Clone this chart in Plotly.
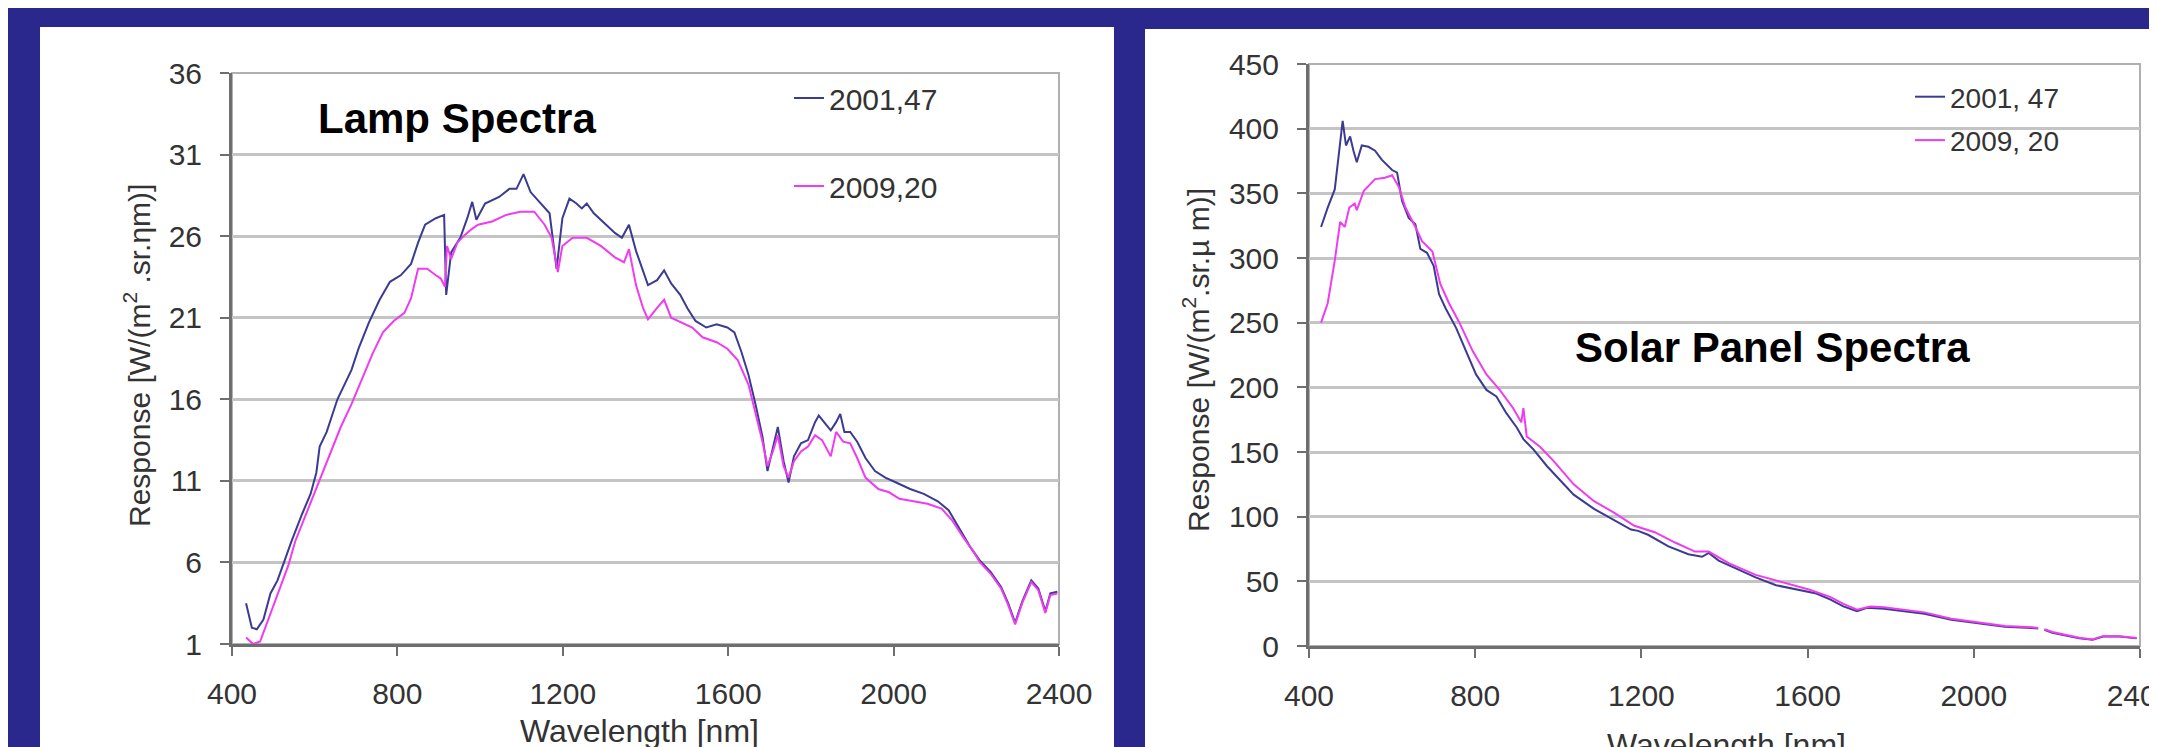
import plotly.graph_objects as go

# ---------------- data ----------------
lamp_wl_2001 = [434, 448, 460, 476, 493, 510, 527, 544, 570, 590, 604, 612, 629, 655, 689, 706, 731, 757, 782, 808,
                833, 850, 867, 893, 913, 918, 930, 952, 969, 981, 991, 1012, 1046, 1071, 1088, 1105, 1122, 1148, 1168,
                1185, 1199, 1216, 1233, 1246, 1258, 1275, 1300, 1326, 1343, 1360, 1377, 1394, 1406, 1428, 1445, 1462,
                1484, 1501, 1521, 1547, 1572, 1598, 1615, 1632, 1649, 1666, 1683, 1695, 1708, 1720, 1734, 1746, 1759,
                1776, 1793, 1810, 1819, 1831, 1848, 1861, 1871, 1881, 1895, 1912, 1932, 1955, 1980, 2006, 2040, 2073,
                2107, 2133, 2158, 2184, 2209, 2235, 2260, 2277, 2294, 2311, 2333, 2350, 2367, 2379, 2396]
lamp_2001 = [3.5, 2.0, 1.9, 2.5, 4.1, 4.9, 6.1, 7.3, 9.0, 10.2, 11.5, 13.1, 14.0, 16.0, 17.8, 19.1, 20.7, 22.1, 23.2,
             23.6, 24.3, 25.6, 26.7, 27.1, 27.3, 22.4, 25.0, 25.9, 27.1, 28.1, 27.0, 28.0, 28.4, 28.9, 28.9, 29.8,
             28.7, 28.0, 27.4, 24.0, 27.1, 28.3, 28.0, 27.7, 28.0, 27.4, 26.8, 26.2, 25.9, 26.7, 25.1, 23.9, 23.0,
             23.3, 23.9, 23.1, 22.4, 21.6, 20.8, 20.4, 20.6, 20.4, 20.1, 18.9, 17.5, 15.7, 13.7, 11.6, 13.1, 14.3,
             12.2, 10.9, 12.5, 13.3, 13.5, 14.6, 15.0, 14.6, 14.1, 14.6, 15.1, 14.0, 14.0, 13.4, 12.4, 11.6, 11.2,
             10.9, 10.5, 10.2, 9.75, 9.2, 8.1, 7.0, 6.1, 5.4, 4.5, 3.5, 2.3, 3.6, 4.9, 4.4, 3.0, 4.1, 4.2]

lamp_wl_2009 = [434, 451, 468, 485, 502, 519, 536, 553, 570, 595, 612, 638, 663, 689, 714, 740, 765, 791, 817, 833,
                850, 872, 893, 905, 915, 920, 930, 945, 960, 978, 995, 1029, 1063, 1097, 1131, 1156, 1173, 1188, 1199,
                1224, 1258, 1292, 1326, 1348, 1360, 1377, 1394, 1406, 1428, 1445, 1462, 1487, 1513, 1538, 1572, 1598,
                1623, 1649, 1666, 1683, 1695, 1708, 1720, 1734, 1746, 1759, 1776, 1793, 1810, 1827, 1848, 1861, 1878,
                1895, 1912, 1932, 1963, 1989, 2014, 2048, 2082, 2116, 2141, 2167, 2192, 2209, 2235, 2260, 2277, 2294,
                2311, 2333, 2350, 2367, 2379, 2396]
lamp_2009 = [1.4, 1.0, 1.15, 2.3, 3.5, 4.6, 5.8, 7.3, 8.4, 9.9, 11.1, 12.7, 14.3, 15.7, 17.2, 18.8, 20.1, 20.8, 21.3,
             22.2, 24.0, 24.0, 23.6, 23.4, 22.9, 25.4, 24.6, 25.6, 26.0, 26.4, 26.7, 26.9, 27.3, 27.5, 27.5, 26.7,
             25.9, 23.8, 25.4, 25.9, 25.9, 25.4, 24.7, 24.4, 25.2, 23.0, 21.6, 20.9, 21.6, 22.1, 21.0, 20.7, 20.4,
             19.8, 19.5, 19.1, 18.4, 16.9, 15.1, 13.4, 11.9, 12.8, 13.8, 11.9, 11.2, 12.2, 12.8, 13.1, 13.8, 13.5,
             12.5, 14.0, 13.4, 13.3, 12.4, 11.2, 10.5, 10.3, 9.9, 9.75, 9.6, 9.3, 8.6, 7.6, 6.7, 6.0, 5.3, 4.4, 3.4,
             2.2, 3.5, 4.8, 4.3, 2.9, 4.0, 4.1]

solar_wl_2001 = [429, 445, 462, 475, 481, 489, 499, 507, 515, 527, 543, 559, 575, 600, 612, 624, 640, 656, 668, 684,
                 700, 713, 729, 754, 778, 802, 827, 851, 875, 900, 916, 940, 973, 1005, 1037, 1086, 1135, 1175, 1192,
                 1216, 1265, 1313, 1346, 1362, 1386, 1427, 1475, 1524, 1573, 1621, 1654, 1686, 1719, 1743, 1784,
                 1832, 1881, 1946, 2011, 2075, 2140, 2155, 2160, 2170, 2189, 2254, 2286, 2311, 2351, 2392]
solar_2001 = [324, 339, 353, 390, 406, 387, 394, 383, 374, 387, 386, 383, 376, 368, 366, 344, 331, 326, 307, 304,
              294, 272, 261, 246, 228, 210, 198, 193, 180, 169, 160, 152, 139, 128, 117, 106, 97, 90, 89,
              86, 77, 71, 69, 72, 66, 60, 53, 47, 43.5, 40.6, 36, 30.6, 27, 29.5, 28.8,
              27, 25, 20.3, 17.7, 14.8, 14, 13.5, None, 12.5, 10.3, 5.9, 4.8, 7.4, 7.4, 5.9]

solar_wl_2009 = [429, 445, 462, 475, 486, 497, 510, 515, 532, 559, 583, 600, 616, 632, 656, 672, 697, 716, 737, 762,
                 794, 827, 859, 891, 911, 916, 924, 956, 989, 1037, 1086, 1135, 1183, 1232, 1281, 1329, 1362, 1410,
                 1475, 1540, 1605, 1654, 1686, 1719, 1751, 1784, 1832, 1881, 1946, 2011, 2075, 2140, 2155, 2160,
                 2170, 2189, 2254, 2286, 2311, 2351, 2392]
solar_2009 = [250, 265, 298, 328, 324, 339, 342, 337, 352, 361, 362, 364, 355, 339, 324, 313, 305, 280, 265, 250,
              228, 210, 198, 184, 173, 184, 162, 154, 143, 125, 112, 103, 93, 88, 80, 73, 73, 64,
              55, 49, 43.5, 38, 32.5, 28, 30.6, 30, 28, 26, 21, 18.5, 15.5, 14.5, 14, None,
              13, 10.8, 6.3, 5, 7.6, 7.6, 6.2]

lamp_names = ["2001,47", "2009,20"]
solar_names = ["2001, 47", "2009, 20"]
x_ticks = [400, 800, 1200, 1600, 2000, 2400]
lamp_y_ticks = [1, 6, 11, 16, 21, 26, 31, 36]
solar_y_ticks = [0, 50, 100, 150, 200, 250, 300, 350, 400, 450]

# ---------------- style ----------------
W, H = 2157, 747
NAVY = "#2a288c"
BLUE = "#3b3b92"
PINK = "#f03cf0"
FONT = "Liberation Sans, Arial, sans-serif"
NARROW = "Liberation Sans Narrow, Arial Narrow, Liberation Sans, Arial, sans-serif"
TXT = "#333333"


def px(x):
    return x / W


def py(y):
    return 1 - y / H


fig = go.Figure()
fig.add_trace(go.Scatter(x=lamp_wl_2001, y=lamp_2001, name=lamp_names[0], mode="lines",
                         line=dict(color=BLUE, width=2), xaxis="x", yaxis="y",
                         legend="legend", legendgroup="a"))
fig.add_trace(go.Scatter(x=lamp_wl_2009, y=lamp_2009, name=lamp_names[1], mode="lines",
                         line=dict(color=PINK, width=2), xaxis="x", yaxis="y",
                         legend="legend", legendgroup="b"))
fig.add_trace(go.Scatter(x=solar_wl_2001, y=solar_2001, name=solar_names[0], mode="lines",
                         line=dict(color=BLUE, width=2), xaxis="x2", yaxis="y2",
                         legend="legend2", legendgroup="c", connectgaps=False))
fig.add_trace(go.Scatter(x=solar_wl_2009, y=solar_2009, name=solar_names[1], mode="lines",
                         line=dict(color=PINK, width=2), xaxis="x2", yaxis="y2",
                         legend="legend2", legendgroup="d", connectgaps=False))

axis_common = dict(showgrid=True, zeroline=False, showline=True, linecolor="#6e6e6e", linewidth=3,
                   ticks="outside", ticklen=9, tickwidth=2, tickcolor="#6e6e6e", automargin=False,
                   ticklabeloverflow="allow",
                   tickfont=dict(family=FONT, size=30, color=TXT))

xcommon = dict(axis_common, range=[400, 2400], tickvals=x_ticks, showgrid=False, ticklabelstandoff=12)

fig.update_layout(
    width=W, height=H,
    margin=dict(l=0, r=0, t=0, b=0, pad=0, autoexpand=False),
    paper_bgcolor=NAVY, plot_bgcolor="white",
    showlegend=True,
    xaxis=dict(xcommon, domain=[px(224), px(1051)], anchor="y"),
    yaxis=dict(axis_common, range=[1, 36], tickvals=lamp_y_ticks, domain=[py(636), py(65)], anchor="x",
               gridcolor="#c4c4c4", gridwidth=3, ticklabelstandoff=12),
    xaxis2=dict(xcommon, domain=[px(1301), px(2132)], anchor="y2"),
    yaxis2=dict(axis_common, range=[0, 450], tickvals=solar_y_ticks, domain=[py(638), py(56)], anchor="x2",
                gridcolor="#c4c4c4", gridwidth=3, ticklabelstandoff=12),
    legend=dict(x=px(781), y=py(64), xanchor="left", yanchor="top", bgcolor="rgba(0,0,0,0)",
                font=dict(family=FONT, size=30, color=TXT), tracegroupgap=46, itemwidth=30),
    legend2=dict(x=px(1902), y=py(64), xanchor="left", yanchor="top", bgcolor="rgba(0,0,0,0)",
                 font=dict(family=FONT, size=28, color=TXT), tracegroupgap=4, itemwidth=30),
)

# white slide panels
fig.add_shape(type="rect", xref="paper", yref="paper", x0=px(32), x1=px(1106), y0=-0.05, y1=py(19),
              fillcolor="white", line=dict(width=0), layer="below")
fig.add_shape(type="rect", xref="paper", yref="paper", x0=px(1137), x1=1.05, y0=-0.05, y1=py(21),
              fillcolor="white", line=dict(width=0), layer="below")
# plot-area frames (top/right borders)
fig.add_shape(type="rect", xref="x domain", yref="y domain", x0=0, x1=1, y0=0, y1=1,
              line=dict(color="#b0b0b0", width=2), layer="below")
fig.add_shape(type="rect", xref="x2 domain", yref="y2 domain", x0=0, x1=1, y0=0, y1=1,
              line=dict(color="#b0b0b0", width=2), layer="below")

ann = []
# axis titles
ann.append(dict(text="Response [W/(m<sup>2</sup> .sr.ηm)]", x=px(129), y=py(348), textangle=-90,
                font=dict(family=FONT, size=30, color=TXT)))
ann.append(dict(text="Response [W/(m<sup>2</sup>.sr.µ m)]", x=px(1188), y=py(352), textangle=-90,
                font=dict(family=FONT, size=30, color=TXT)))
ann.append(dict(text="Wavelength [nm]", x=px(631), y=py(723),
                font=dict(family=FONT, size=32, color=TXT)))
ann.append(dict(text="Wavelength [nm]", x=px(1718), y=py(737),
                font=dict(family=FONT, size=32, color=TXT)))
# chart labels
ann.append(dict(text="<b>Lamp Spectra</b>", x=px(449), y=py(110),
                font=dict(family=NARROW, size=42, color="black")))
ann.append(dict(text="<b>Solar Panel Spectra</b>", x=px(1764), y=py(339),
                font=dict(family=NARROW, size=42, color="black")))
for a in ann:
    a.update(xref="paper", yref="paper", showarrow=False, xanchor="center", yanchor="middle")
fig.update_layout(annotations=ann)

fig.write_html("out.html")
